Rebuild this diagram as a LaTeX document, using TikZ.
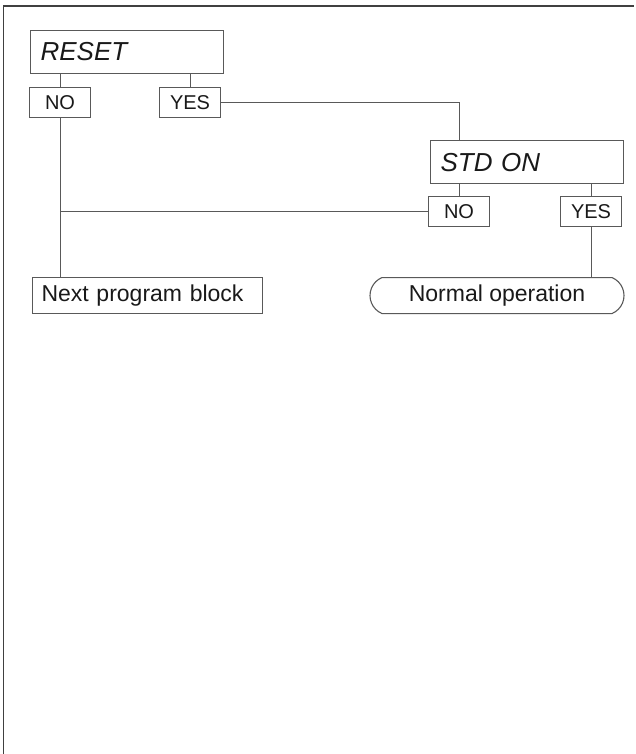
\documentclass[tikz,border=0pt]{standalone}
\usepackage{fontspec}
\setmainfont{Liberation Sans}
\usetikzlibrary{shapes.misc}
\begin{document}
\begin{tikzpicture}[x=1pt,y=-1pt,
  line width=1pt,
  conn/.style={draw=black!65, line width=1.1pt},
  titlebox/.style={draw=black!65, line width=1.1pt, anchor=north west, inner xsep=10pt, inner ysep=0pt,
    minimum height=43pt, text width=173pt, align=left, text=black!90,
    font=\fontsize{26}{28}\selectfont\itshape},
  ansbox/.style={draw=black!65, line width=1.1pt, anchor=north west, inner sep=0pt,
    minimum width=61pt, minimum height=30pt, text=black!90,
    font=\fontsize{20}{22}\selectfont},
  endbox/.style={draw=black!65, line width=1.1pt, anchor=north west, inner xsep=9pt, inner ysep=0pt,
    minimum height=36pt, text=black!90, align=left,
    font=\fontsize{23}{25}\selectfont},
  stadium/.style={draw=black!65, line width=1.1pt, anchor=north, rounded rectangle,
    rounded rectangle arc length=135, inner sep=0pt,
    minimum width=254pt, minimum height=36pt, text=black!90,
    font=\fontsize{23}{25}\selectfont}
]
\useasboundingbox (0,0) rectangle (635,754);
% frame
\draw[black!75, line width=1.4pt] (3.5,754) -- (3.5,6) -- (634,6);

\node[titlebox] (reset) at (30,30) {RESET};
\node[ansbox] (no1) at (29,87) {NO};
\node[ansbox] (yes1) at (159,87) {YES};

\node[titlebox] (std) at (430,140) {STD ON};
\node[ansbox] (no2) at (428,196) {NO};
\node[ansbox] (yes2) at (560,196) {YES};

\node[endbox, text width=212pt] (next) at (32,277) {Next program block};
\node[stadium] (normal) at (497,277) {Normal operation};

% connectors
\draw[conn] (reset.south -| no1.north) -- (no1.north);
\draw[conn] (reset.south -| yes1.north) -- (yes1.north);
\draw[conn] (yes1.east) -| (std.north -| no2.north);
\draw[conn] (std.south -| no2.north) -- (no2.north);
\draw[conn] (std.south -| yes2.north) -- (yes2.north);
\draw[conn] (no1.south) -- (next.north -| no1.south);
\draw[conn] (no2.west) -- (no2.west -| no1.south);
\draw[conn] (yes2.south) -- (normal.north -| yes2.south);
\end{tikzpicture}
\end{document}
